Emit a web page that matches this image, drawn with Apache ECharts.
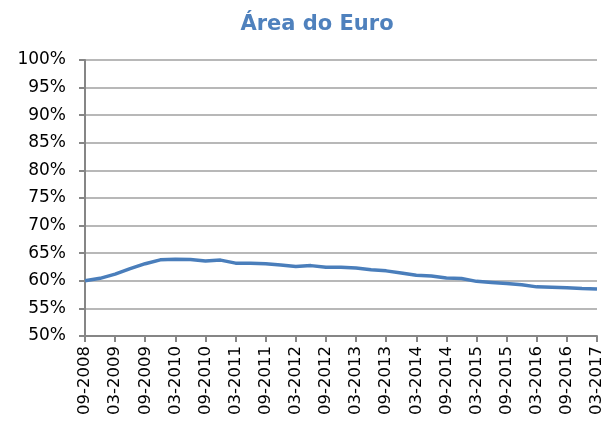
<!DOCTYPE html>
<html>
<head>
<meta charset="utf-8">
<script src="https://cdn.jsdelivr.net/npm/echarts@6/dist/echarts.min.js"></script>
<style>
  html, body { margin: 0; padding: 0; background: #fff; }
  #chart { width: 611px; height: 432px; }
</style>
</head>
<body>
<div id="chart"></div>
<script>
// quarterly periods, 09-2008 .. 03-2017
const periods = [
  "09-2008", "12-2008", "03-2009", "06-2009", "09-2009", "12-2009",
  "03-2010", "06-2010", "09-2010", "12-2010", "03-2011", "06-2011",
  "09-2011", "12-2011", "03-2012", "06-2012", "09-2012", "12-2012",
  "03-2013", "06-2013", "09-2013", "12-2013", "03-2014", "06-2014",
  "09-2014", "12-2014", "03-2015", "06-2015", "09-2015", "12-2015",
  "03-2016", "06-2016", "09-2016", "12-2016", "03-2017"
];

// share (%)
const euroArea = [
  60.0, 60.45, 61.2, 62.2, 63.1, 63.8,
  63.9, 63.85, 63.6, 63.75, 63.2, 63.2,
  63.1, 62.85, 62.6, 62.75, 62.45, 62.45,
  62.3, 62.0, 61.8, 61.4, 61.0, 60.85,
  60.5, 60.4, 59.9, 59.7, 59.5, 59.3,
  58.9, 58.85, 58.75, 58.6, 58.5
];

const chartTitle = "Área do Euro";
const font = "Verdana, 'DejaVu Sans', sans-serif";

const chart = echarts.init(document.getElementById("chart"));

chart.setOption({
  animation: false,
  title: {
    text: chartTitle,
    left: 312,
    top: 9,
    textAlign: "center",
    textStyle: { color: "#4f81bd", fontSize: 21, fontWeight: "bold", fontFamily: font }
  },
  grid: { left: 85, right: 14, top: 60, bottom: 96 },
  xAxis: {
    type: "category",
    data: periods,
    boundaryGap: false,
    axisLine: { lineStyle: { color: "#868686", width: 2 } },
    axisTick: { interval: 1, length: 6, lineStyle: { color: "#868686", width: 2 } },
    axisLabel: { interval: 1, rotate: 90, color: "#000", fontSize: 16.5, fontFamily: font, margin: 10 }
  },
  yAxis: {
    type: "value",
    min: 50,
    max: 100,
    interval: 5,
    axisLine: { show: true, lineStyle: { color: "#868686", width: 2 } },
    axisTick: { show: true, length: 6, lineStyle: { color: "#868686", width: 2 } },
    axisLabel: { formatter: "{value}%", color: "#000", fontSize: 17, fontFamily: font, margin: 19 },
    splitLine: { show: true, lineStyle: { color: "#a0a0a0", width: 1.5 } }
  },
  series: [
    {
      type: "line",
      data: euroArea,
      symbol: "none",
      lineStyle: { color: "#4a7ebb", width: 3.5 }
    }
  ]
});
</script>
</body>
</html>
